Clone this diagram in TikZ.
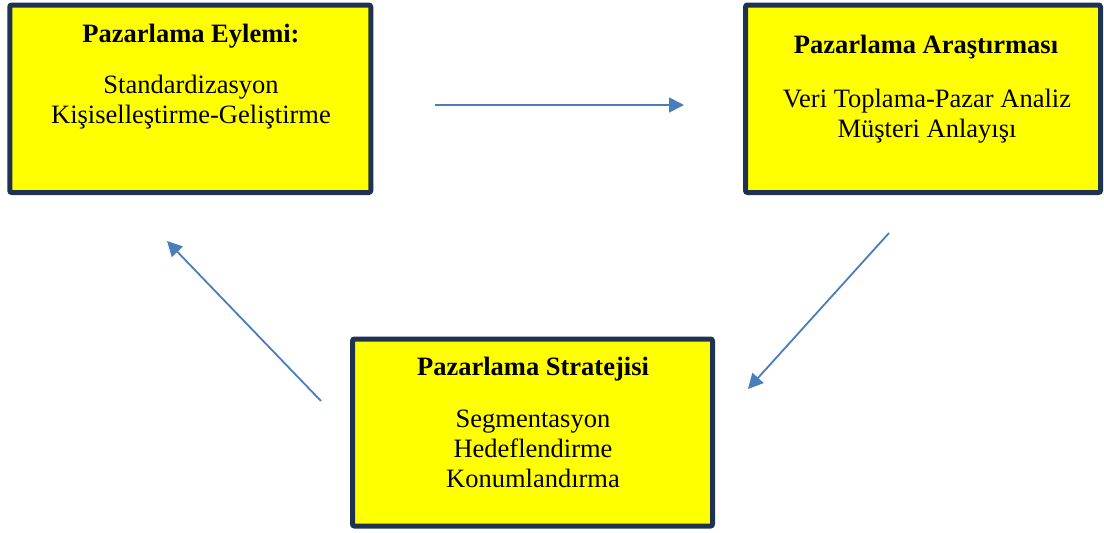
\documentclass[tikz,border=0pt]{standalone}
\usepackage{fontspec}
\setmainfont{Liberation Serif}
\usetikzlibrary{arrows.meta}
\definecolor{boxfill}{HTML}{FFFF00}
\definecolor{boxline}{HTML}{1F3350}
\definecolor{flow}{HTML}{4A7EBB}
\begin{document}
\begin{tikzpicture}[x=1pt,y=-1pt,
  panel/.style={draw=boxline, fill=boxfill, line width=5pt, rounded corners=2pt,
    rectangle, inner sep=0pt, outer sep=0pt},
  heading/.style={anchor=base, font=\fontsize{26.5}{30}\selectfont\bfseries, inner sep=0pt},
  body/.style={anchor=base, font=\fontsize{26.5}{30}\selectfont, inner sep=0pt},
  flowarrow/.style={draw=flow, line width=1.8pt, -{Triangle[length=15pt,width=15pt]}}]
\useasboundingbox (0,0) rectangle (1104,533);

% three stage boxes
\node[panel, minimum width=361pt, minimum height=187.5pt] (act) at (190.25,98.75) {};
\node[panel, minimum width=355pt, minimum height=187.5pt] (res) at (923,98.75) {};
\node[panel, minimum width=360pt, minimum height=187pt] (str) at (532.5,432.5) {};

% box texts
\node[heading] (actT) at (191,42) {Pazarlama Eylemi:};
\node[body] (actB1) at (191,93) {Standardizasyon};
\node[body] (actB2) at (191,123) {Kişiselleştirme-Geliştirme};

\node[heading] (resT) at (926,53) {Pazarlama Araştırması};
\node[body] (resB1) at (927,107) {Veri Toplama-Pazar Analiz};
\node[body] (resB2) at (927,137) {Müşteri Anlayışı};

\node[heading] (strT) at (533,375) {Pazarlama Stratejisi};
\node[body] (strB1) at (533,427) {Segmentasyon};
\node[body] (strB2) at (533,457) {Hedeflendirme};
\node[body] (strB3) at (533,487) {Konumlandırma};

% cycle arrows
\coordinate (a1s) at (435,105);
\coordinate (a1e) at (684,105);
\coordinate (a2s) at (889,233);
\coordinate (a2e) at (748,389);
\coordinate (a3s) at (321,401);
\coordinate (a3e) at (167,241);
\draw[flowarrow] (a1s) -- (a1e);
\draw[flowarrow] (a2s) -- (a2e);
\draw[flowarrow] (a3s) -- (a3e);
\end{tikzpicture}
\end{document}
